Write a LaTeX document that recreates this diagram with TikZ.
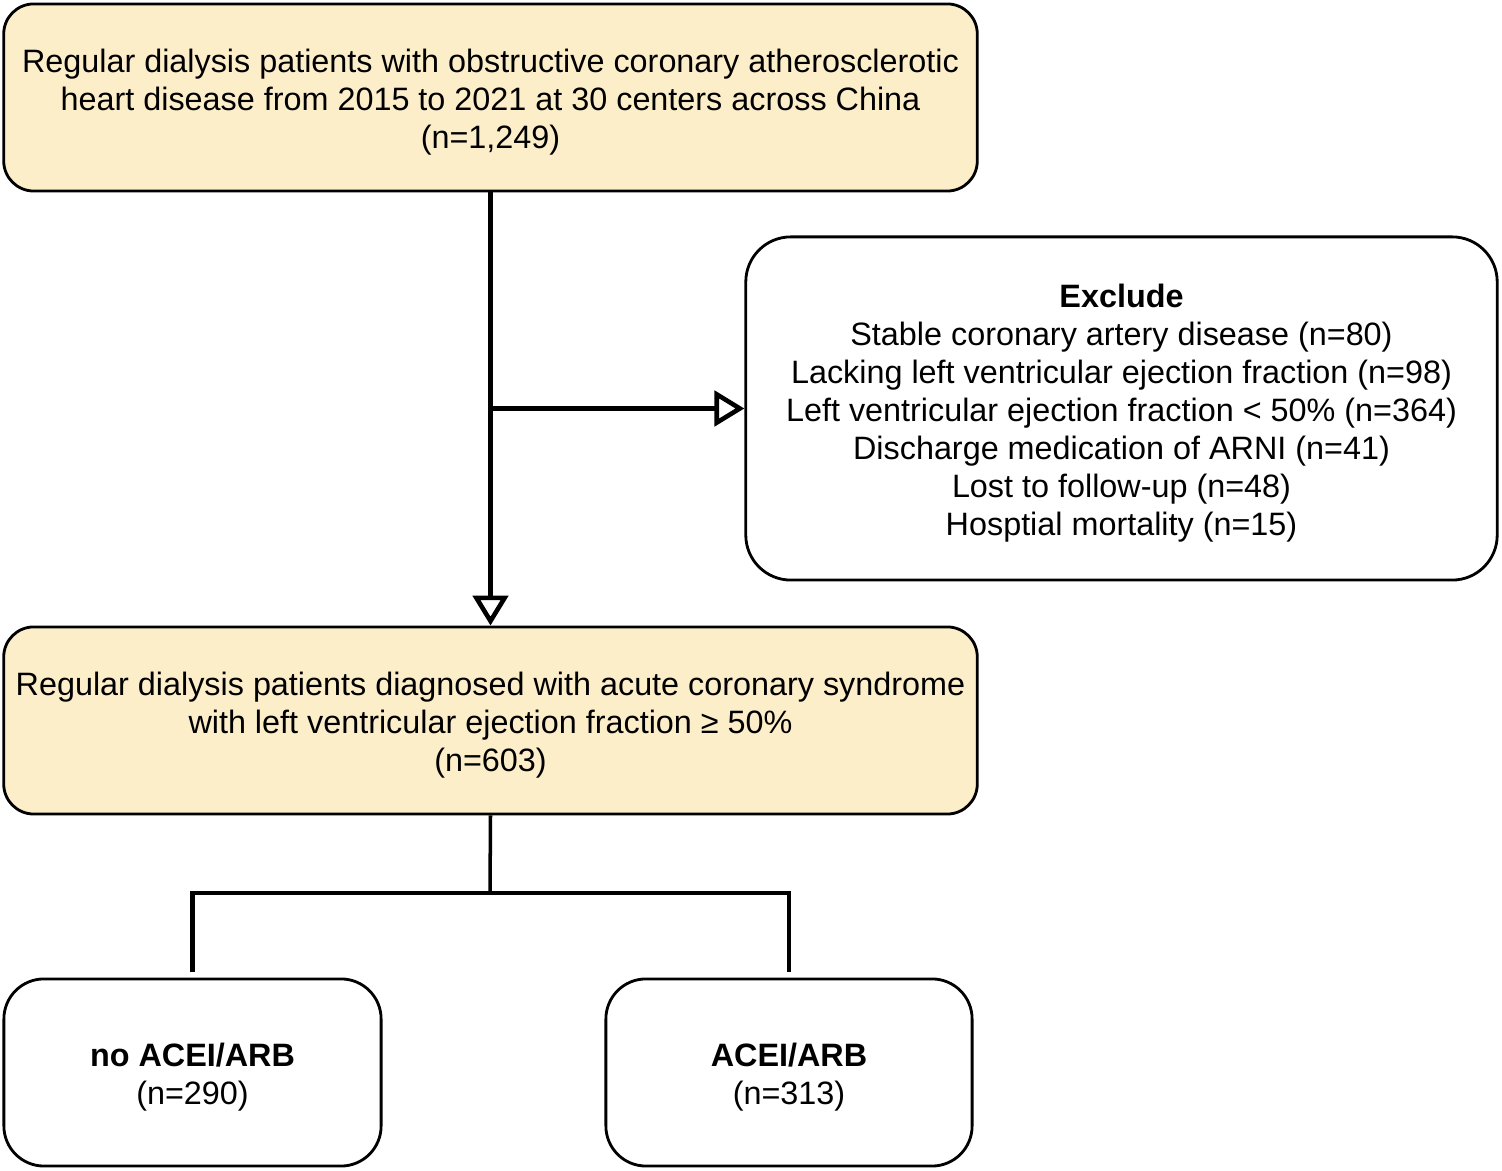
\documentclass[tikz,border=0pt]{standalone}
\usepackage{fontspec}
\setmainfont{Liberation Sans}
\usetikzlibrary{arrows.meta}
\definecolor{boxyellow}{RGB}{253,238,202}
\newcommand{\topgap}{\rule{0pt}{9.5pt}}

\begin{document}
\begin{tikzpicture}[x=0.01cm, y=-0.01cm,
    ynode/.style={draw, line width=0.8pt, fill=boxyellow, rounded corners=0.3cm, minimum width=9.73cm, minimum height=1.87cm, align=center, inner sep=0pt, font=\fontsize{9.2}{10.8}\selectfont},
    wnode/.style={draw, line width=0.8pt, fill=white, rounded corners=0.4cm, minimum height=1.87cm, align=center, inner sep=0pt, font=\fontsize{9.2}{10.8}\selectfont},
    arr/.style={line width=1.3pt, -{Triangle[open, length=8.5pt, width=10pt]}},
    link/.style={line width=1.2pt}]
    \useasboundingbox (0,0) rectangle (1502,1171);

    \node[ynode] (all) at (490.5, 97.5) {\topgap Regular dialysis patients with obstructive coronary atherosclerotic\\heart disease from 2015 to 2021 at 30 centers across China\\(n=1,249)};
    \node[wnode, minimum width=7.51cm, minimum height=3.43cm, rounded corners=0.45cm] (excl) at (1121.5, 408.5) {\topgap\textbf{Exclude}\\Stable coronary artery disease (n=80)\\Lacking left ventricular ejection fraction (n=98)\\Left ventricular ejection fraction < 50\% (n=364)\\Discharge medication of ARNI (n=41)\\Lost to follow-up (n=48)\\Hosptial mortality (n=15)};
    \node[ynode] (acs) at (490.5, 720.5) {\topgap Regular dialysis patients diagnosed with acute coronary syndrome\\with left ventricular ejection fraction ≥ 50\%\\(n=603)};
    \node[wnode, minimum width=3.77cm] (noacei) at (192.5, 1072.5) {\topgap\textbf{no ACEI/ARB}\\(n=290)};
    \node[wnode, minimum width=3.66cm] (acei) at (789, 1072.5) {\topgap\textbf{ACEI/ARB}\\(n=313)};

    \coordinate (split) at (all.south |- excl.west);
    \coordinate (fork) at (490, 893);

    \draw[arr] (all.south) -- (acs.north);
    \draw[arr] (split) -- (excl.west);

    \draw[link, line width=1pt] (acs.south) -- (fork);
    \draw[link] ([yshift=1.5pt]noacei.north) |- (fork) -| ([yshift=1.5pt]acei.north);
\end{tikzpicture}
\end{document}
